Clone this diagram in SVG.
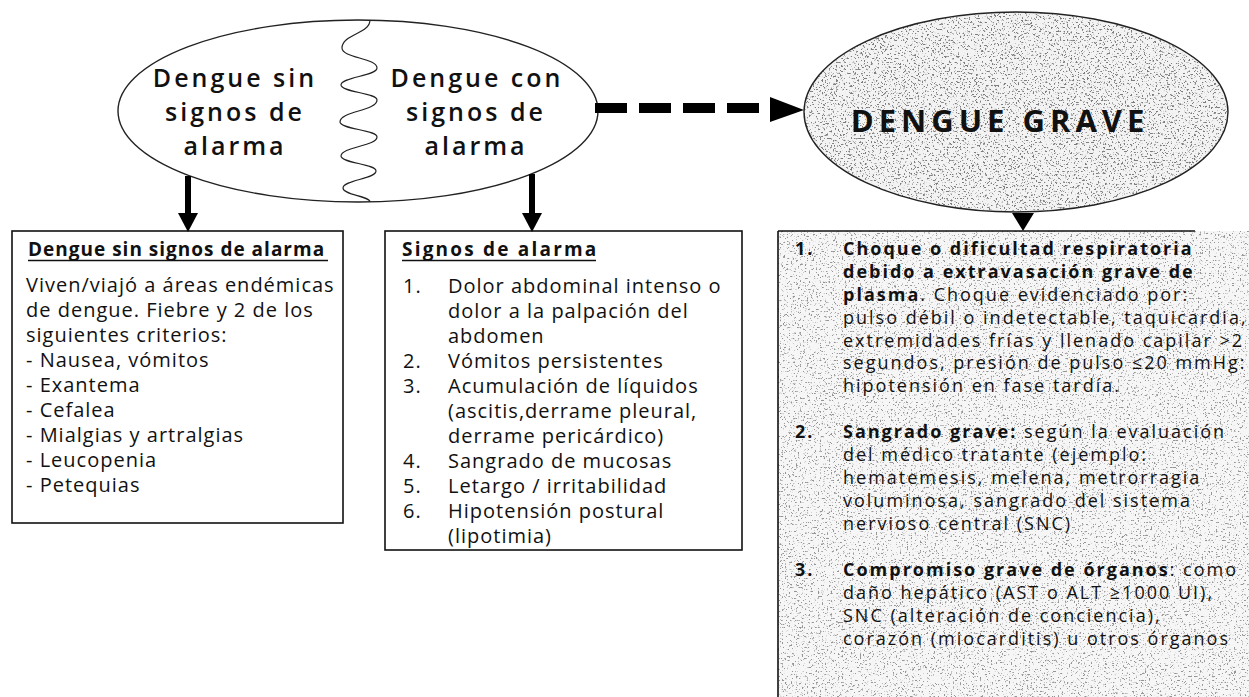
<svg xmlns="http://www.w3.org/2000/svg" width="1249" height="697" viewBox="0 0 1249 697">
<style>
  .t { font-family: "Open Sans", "Liberation Sans", sans-serif; fill: #111; }
  .big { font-size: 25px; font-weight: 600; letter-spacing: 3px; }
  .body { font-size: 20px; letter-spacing: 1px; }
  .body2 { font-size: 18px; letter-spacing: 2px; }
  .hdr { font-size: 19px; font-weight: 700; letter-spacing: 1px; }
  .hdr2 { letter-spacing: 2.2px; }
  .b { font-weight: 700; }
  .box { fill: #fff; stroke: #111; stroke-width: 1.6; }
  .ell { fill: none; stroke: #222; stroke-width: 1.4; }
</style>
<defs>
  <filter id="spk" x="0" y="0" width="1" height="1" filterUnits="objectBoundingBox">
    <feTurbulence type="fractalNoise" baseFrequency="0.55" numOctaves="4" seed="7" result="t"/>
    <feColorMatrix in="t" type="matrix" values="0 0 0 0 0.2  0 0 0 0 0.2  0 0 0 0 0.2  -9 0 0 0 3.75" result="a"/>
    <feComposite in="a" in2="SourceGraphic" operator="in"/>
  </filter>
  <filter id="spk2" x="0" y="0" width="1" height="1" filterUnits="objectBoundingBox">
    <feTurbulence type="fractalNoise" baseFrequency="0.55" numOctaves="4" seed="11" result="t"/>
    <feColorMatrix in="t" type="matrix" values="0 0 0 0 0.3  0 0 0 0 0.3  0 0 0 0 0.3  -9 0 0 0 3.5" result="a"/>
    <feComposite in="a" in2="SourceGraphic" operator="in"/>
  </filter>
</defs>
<rect width="1249" height="697" fill="#fff"/>

<g id="node-dengue-left">
  <ellipse cx="358" cy="111" rx="240" ry="91" fill="#fff" class="ell"/>
  <path d="M370,20 C370,34 342,34 342,48 C342,58 377,58 377,68 C377,76 341,77 341,85 C341,92 377,93 377,100 C377,111 340,111 340,122 C340,129 377,130 377,137 C377,146 341,147 341,156 C341,163 376,164 376,171 C376,179 343,180 343,188 C343,195 370,196 370,202" fill="none" stroke="#222" stroke-width="1.2"/>
  <g class="t big" text-anchor="middle">
    <text x="235" y="87">Dengue sin</text>
    <text x="235" y="121">signos de</text>
    <text x="235" y="155">alarma</text>
    <text x="477" y="87">Dengue con</text>
    <text x="476" y="121">signos de</text>
    <text x="476" y="155">alarma</text>
  </g>
</g>

<g id="node-dengue-grave">
  <ellipse cx="1016" cy="112" rx="212" ry="100" fill="#f3f3f3"/>
  <ellipse cx="1016" cy="112" rx="212" ry="100" fill="#fff" filter="url(#spk)"/>
  <ellipse cx="1016" cy="112" rx="212" ry="100" class="ell"/>
  <text class="t" x="1000" y="132" text-anchor="middle" font-size="31" font-weight="700" letter-spacing="5">DENGUE GRAVE</text>
</g>

<g id="node-box-sin-signos">
  <rect class="box" x="12" y="231" width="331" height="292"/>
  <text class="t hdr" x="28" y="256">Dengue sin signos de alarma</text>
  <line x1="28" y1="260.5" x2="328" y2="260.5" stroke="#111" stroke-width="1.6"/>
  <g class="t body">
    <text x="26" y="292">Viven/viajó a áreas endémicas</text>
    <text x="26" y="317">de dengue. Fiebre y 2 de los</text>
    <text x="26" y="342">siguientes criterios:</text>
    <text x="26" y="367">- Nausea, vómitos</text>
    <text x="26" y="392">- Exantema</text>
    <text x="26" y="417">- Cefalea</text>
    <text x="26" y="442">- Mialgias y artralgias</text>
    <text x="26" y="467">- Leucopenia</text>
    <text x="26" y="492">- Petequias</text>
  </g>
</g>

<g id="node-box-signos-alarma">
  <rect class="box" x="385" y="231" width="357" height="319"/>
  <text class="t hdr hdr2" x="402" y="256">Signos de alarma</text>
  <line x1="402" y1="260.5" x2="596" y2="260.5" stroke="#111" stroke-width="1.6"/>
  <g class="t body">
    <text x="403" y="293">1.</text><text x="448" y="293">Dolor abdominal intenso o</text>
    <text x="448" y="318">dolor a la palpación  del</text>
    <text x="448" y="343">abdomen</text>
    <text x="403" y="368">2.</text><text x="448" y="368">Vómitos persistentes</text>
    <text x="403" y="393">3.</text><text x="448" y="393">Acumulación de líquidos</text>
    <text x="448" y="418">(ascitis,derrame pleural,</text>
    <text x="448" y="443">derrame pericárdico)</text>
    <text x="403" y="468">4.</text><text x="448" y="468">Sangrado de mucosas</text>
    <text x="403" y="493">5.</text><text x="448" y="493">Letargo / irritabilidad</text>
    <text x="403" y="518">6.</text><text x="448" y="518">Hipotensión  postural</text>
    <text x="448" y="543">(lipotimia)</text>
  </g>
</g>

<g id="node-box-grave">
  <rect x="778" y="231" width="471" height="466" fill="#f6f6f6"/>
  <rect x="778" y="231" width="471" height="466" fill="#fff" filter="url(#spk2)"/>
  <line x1="778" y1="231" x2="1195" y2="231" stroke="#111" stroke-width="1.6"/>
  <line x1="778" y1="231" x2="778" y2="697" stroke="#111" stroke-width="1.6"/>
  <g class="t body2">
    <text class="b" x="795" y="255">1.</text>
    <text class="b" x="843" y="255">Choque o dificultad respiratoria</text>
    <text class="b" x="843" y="278">debido a extravasación grave de</text>
    <text x="843" y="301"><tspan class="b">plasma</tspan>. Choque evidenciado por:</text>
    <text x="843" y="324">pulso débil o indetectable, taquicardia,</text>
    <text x="843" y="347">extremidades frías y llenado capilar &gt;2</text>
    <text x="843" y="369">segundos, presión de pulso ≤20 mmHg:</text>
    <text x="843" y="392">hipotensión  en fase tardía.</text>
    <text class="b" x="795" y="438">2.</text>
    <text x="843" y="438"><tspan class="b">Sangrado grave:</tspan> según la evaluación</text>
    <text x="843" y="461">del médico tratante (ejemplo:</text>
    <text x="843" y="484">hematemesis, melena, metrorragia</text>
    <text x="843" y="507">voluminosa, sangrado del sistema</text>
    <text x="843" y="530">nervioso central (SNC)</text>
    <text class="b" x="795" y="576">3.</text>
    <text x="843" y="576"><tspan class="b">Compromiso grave de órganos</tspan>: como</text>
    <text x="843" y="599">daño hepático (AST o ALT ≥1000 UI),</text>
    <text x="843" y="622">SNC (alteración de conciencia),</text>
    <text x="843" y="645">corazón (miocarditis) u otros órganos</text>
  </g>
</g>

<g id="connectors">
  <line x1="595" y1="108" x2="768" y2="108" stroke="#000" stroke-width="10" stroke-dasharray="32 12"/>
  <polygon points="770,97 770,122 804,110" fill="#000"/>
  <line x1="188" y1="176" x2="188" y2="215" stroke="#000" stroke-width="6"/>
  <polygon points="178,213 198,213 188,232" fill="#000"/>
  <line x1="532" y1="174" x2="532" y2="215" stroke="#000" stroke-width="6"/>
  <polygon points="522,213 542,213 532,232" fill="#000"/>
  <polygon points="1012,213 1034,213 1023,231" fill="#000"/>
</g>
</svg>
